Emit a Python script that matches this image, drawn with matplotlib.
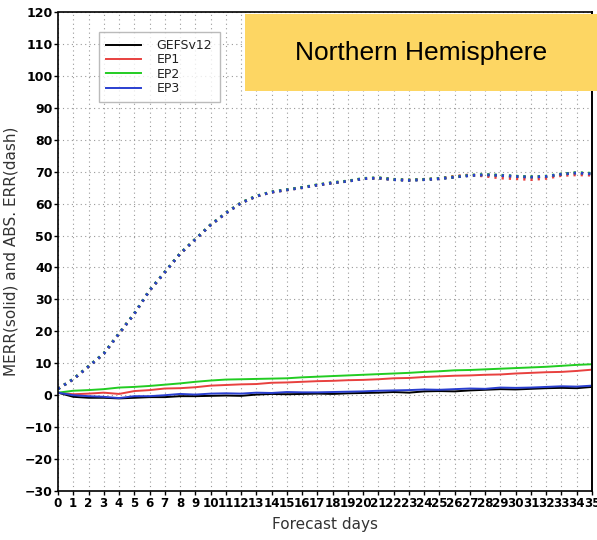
import matplotlib
matplotlib.use('Agg')
import matplotlib.pyplot as plt
import matplotlib.patches as mpatches

# forecast days 0..35
days = list(range(36))

# mean error (solid)
merr_gefs = [0.8, -0.5, -0.8, -0.8, -1.0, -0.8, -0.6, -0.6, -0.3, -0.3, -0.2, -0.1,
             -0.2, 0.2, 0.4, 0.3, 0.4, 0.5, 0.4, 0.6, 0.7, 0.8, 1.0, 0.8,
             1.2, 1.3, 1.2, 1.5, 1.7, 1.9, 1.8, 2.0, 2.2, 2.3, 2.2, 2.6]
merr_ep1 = [0.8, 0.3, 0.5, 0.8, 0.4, 1.3, 1.6, 2.1, 2.2, 2.5, 3.0, 3.2,
            3.4, 3.5, 3.9, 4.0, 4.2, 4.4, 4.5, 4.7, 4.8, 5.0, 5.3, 5.4,
            5.7, 5.9, 6.1, 6.2, 6.4, 6.5, 6.8, 7.0, 7.2, 7.3, 7.6, 8.0]
merr_ep2 = [0.8, 1.4, 1.6, 1.9, 2.4, 2.6, 2.9, 3.3, 3.7, 4.2, 4.6, 4.9,
            5.0, 5.1, 5.2, 5.3, 5.6, 5.8, 6.0, 6.2, 6.4, 6.6, 6.8, 7.0,
            7.3, 7.5, 7.8, 7.9, 8.1, 8.3, 8.5, 8.7, 8.9, 9.2, 9.5, 9.7]
merr_ep3 = [0.8, 0.0, -0.3, -0.5, -0.9, -0.3, -0.3, 0.0, 0.4, 0.2, 0.5, 0.6,
            0.5, 0.8, 0.7, 1.0, 0.9, 0.9, 1.0, 1.1, 1.2, 1.4, 1.5, 1.6,
            1.8, 1.7, 1.9, 2.1, 2.0, 2.4, 2.3, 2.4, 2.6, 2.8, 2.7, 3.0]

# absolute error (dash)
abse_gefs = [2.0, 5.0, 9.0, 13.0, 19.3, 25.5, 32.8, 38.5, 44.3, 48.8, 53.3, 57.0,
             60.2, 62.3, 63.6, 64.3, 65.0, 65.8, 66.5, 67.0, 67.8, 68.0, 67.5, 67.3,
             67.5, 67.8, 68.3, 68.8, 69.0, 68.8, 68.5, 68.3, 68.5, 69.2, 69.6, 69.3]
abse_ep1 = [2.0, 5.0, 9.0, 13.0, 19.3, 25.5, 32.8, 38.5, 44.3, 48.8, 53.3, 57.0,
            60.2, 62.3, 63.6, 64.3, 65.0, 65.8, 66.5, 67.0, 67.8, 68.0, 67.6, 67.4,
            67.6, 67.9, 68.6, 69.0, 68.6, 68.0, 67.8, 67.5, 67.9, 68.8, 69.0, 68.9]
abse_ep2 = [2.0, 5.1, 9.1, 13.1, 19.4, 25.6, 32.9, 38.6, 44.4, 48.9, 53.4, 57.1,
            60.3, 62.4, 63.7, 64.4, 65.1, 65.9, 66.6, 67.1, 67.9, 68.1, 67.6, 67.4,
            67.6, 67.9, 68.4, 68.9, 69.1, 68.9, 68.6, 68.4, 68.6, 69.3, 69.7, 69.5]
abse_ep3 = [2.0, 5.0, 9.0, 13.0, 19.3, 25.5, 32.8, 38.5, 44.3, 48.8, 53.3, 57.0,
            60.2, 62.3, 63.6, 64.3, 65.0, 65.8, 66.5, 67.0, 67.8, 68.0, 67.5, 67.3,
            67.5, 67.8, 68.3, 68.8, 69.0, 68.8, 68.5, 68.3, 68.5, 69.2, 69.6, 69.3]

names = ['GEFSv12', 'EP1', 'EP2', 'EP3']
colors = ['black', '#e8413f', '#22cc22', '#2a3fd0']

fig = plt.figure(figsize=(5.97, 5.40), dpi=100)
ax = fig.add_axes([0.0972, 0.0907, 0.8944, 0.8871])

merrs = [merr_gefs, merr_ep1, merr_ep2, merr_ep3]
abses = [abse_gefs, abse_ep1, abse_ep2, abse_ep3]
for n, c, m in zip(names, colors, merrs):
    ax.plot(days, m, color=c, lw=1.4, label=n)
for c, a in zip(colors, abses):
    ax.plot(days, a, color=c, lw=2.0, ls=(0, (0.8, 1.8)))

ax.set_xlim(0, 35)
ax.set_ylim(-30, 120)
ax.set_xticks(range(36))
ax.set_yticks(range(-30, 121, 10))
ax.set_yticklabels([str(v).replace('-', '\u2212') for v in range(-30, 121, 10)])
ax.grid(True, color='#999999', ls=(0, (1, 3)), lw=0.8)

for lab in ax.get_xticklabels():
    lab.set_fontsize(8.6)
    lab.set_fontweight('bold')
for lab in ax.get_yticklabels():
    lab.set_fontsize(9)
    lab.set_fontweight('bold')
ax.tick_params(axis='both', direction='out', length=3, width=1, pad=1)

for side in ['top', 'left', 'bottom']:
    ax.spines[side].set_linestyle((0, (3, 1)))
    ax.spines[side].set_linewidth(1.2)
ax.spines['right'].set_linewidth(1.4)

ax.set_ylabel('MERR(solid) and ABS. ERR(dash)', fontsize=11, color='#333333',
              labelpad=4)
ax.set_xlabel('Forecast days', fontsize=11, color='#333333', labelpad=5)

leg = ax.legend(loc='upper left', bbox_to_anchor=(0.065, 0.972), fontsize=9,
                frameon=True, fancybox=False, edgecolor='#aaaaaa',
                handlelength=2.8, handletextpad=1.2, labelspacing=0.1,
                borderpad=0.6)
leg.get_frame().set_linewidth(1.0)
for t in leg.get_texts():
    t.set_color('#222222')

# label box
fig.patches.append(mpatches.Rectangle((245 / 597, 1 - 91 / 540), 352 / 597, 77 / 540,
                                      transform=fig.transFigure, facecolor='#fdd663',
                                      edgecolor='none', zorder=5))
fig.text(421 / 597, 1 - 53 / 540, 'Northern Hemisphere', fontsize=19,
         family='Liberation Sans', ha='center', va='center', zorder=6)

# title cut at the top
fig.text(320 / 597, 1.016, 'Average for 20000101-20191231', fontsize=11,
         color='#888888', ha='center', va='center')

fig.savefig('out.png', dpi=100)
